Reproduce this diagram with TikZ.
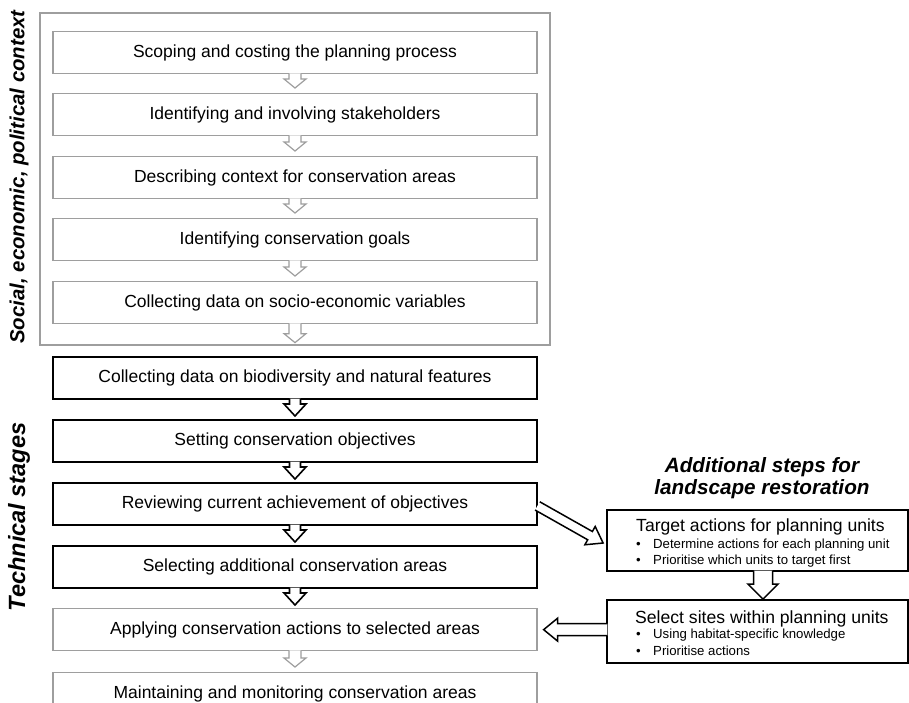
\documentclass[tikz,border=0pt]{standalone}
\usepackage{fontspec}
\setmainfont{Liberation Sans}
\usetikzlibrary{calc}
\newcommand\harrow[6]{% #1 style, #2 start, #3 tip, #4 shaft half, #5 head half, #6 head length
  \path (#2) coordinate (ha-s) (#3) coordinate (ha-t);
  \path ($(ha-t)!#6!(ha-s)$) coordinate (ha-h);
  \draw[#1] ($(ha-s)!#4!90:(ha-t)$) -- ($(ha-h)!#4!90:(ha-t)$) -- ($(ha-h)!#5!90:(ha-t)$)
    -- (ha-t) -- ($(ha-h)!#5!-90:(ha-t)$) -- ($(ha-h)!#4!-90:(ha-t)$) -- ($(ha-s)!#4!-90:(ha-t)$);
}
\tikzset{
  gbox/.style={draw=black!38, line width=1.3pt, fill=white, minimum width=484pt,
    minimum height=42pt, inner sep=0pt, anchor=north, font=\fontsize{17.5}{20}\selectfont},
  bbox/.style={gbox, draw=black, line width=1.8pt},
  rbox/.style={draw=black, line width=1.8pt, fill=white, inner sep=0pt, minimum width=301pt},
  frame/.style={draw=black!38, line width=1.3pt, inner sep=0pt, minimum width=510pt, minimum height=332pt},
  sidelabel/.style={rotate=90, font=\bfseries\itshape\fontsize{20.4}{22}\selectfont, inner sep=0pt},
  rtitle/.style={anchor=base west, inner sep=0pt, font=\fontsize{17.6}{20}\selectfont},
  rbullet/.style={anchor=base west, inner sep=0pt, font=\fontsize{13.2}{15}\selectfont},
  garrow/.style={draw=black!38, line width=1.2pt, fill=white, line join=miter},
  barrow/.style={draw=black, line width=1.6pt, fill=white, line join=miter},
}
\newcommand\bul{\makebox[17pt][l]{\textbullet}}
\begin{document}
\begin{tikzpicture}[x=1pt,y=-1pt]
\clip (0,0) rectangle (909,703);
\fill[white] (0,0) rectangle (909,703);
% context frame
\node[frame] (ctx) at (295,179) {};
% side labels
\node[sidelabel] (soc) at (19,177) {Social, economic, political context};
\node[sidelabel, font=\bfseries\itshape\fontsize{23.5}{25}\selectfont] (tech) at (19,517) {Technical stages};
% grey context boxes
\node[gbox] (g1) at (295,31) {Scoping and costing the planning process};
\node[gbox] (g2) at (295,93) {Identifying and involving stakeholders};
\node[gbox] (g3) at (295,156) {Describing context for conservation areas};
\node[gbox] (g4) at (295,218) {Identifying conservation goals};
\node[gbox] (g5) at (295,281) {Collecting data on socio-economic variables};
% technical stages
\node[bbox] (b1) at (295,356) {Collecting data on biodiversity and natural features};
\node[bbox] (b2) at (295,419) {Setting conservation objectives};
\node[bbox] (b3) at (295,482) {Reviewing current achievement of objectives};
\node[bbox] (b4) at (295,545) {Selecting additional conservation areas};
\node[gbox] (app) at (295,608) {Applying conservation actions to selected areas};
\node[gbox] (mnt) at (295,672) {Maintaining and monitoring conservation areas};
% right side
\node[font=\bfseries\itshape\fontsize{20.7}{22}\selectfont, align=center, inner sep=0pt] (addT) at (762,478) {Additional steps for\\landscape restoration};
\node[rbox, minimum height=61pt] (tgt) at (757.5,540.5) {};
\node[rbox, minimum height=63pt] (sel) at (757.5,631.5) {};
\node[rtitle] (tgtT) at (636,531) {Target actions for planning units};
\node[rbullet] (tgtB1) at (636,548) {\bul Determine actions for each planning unit};
\node[rbullet] (tgtB2) at (636,564) {\bul Prioritise which units to target first};
\node[rtitle] (selT) at (635,623) {Select sites within planning units};
\node[rbullet] (selB1) at (636,638) {\bul Using habitat-specific knowledge};
\node[rbullet] (selB2) at (636,655) {\bul Prioritise actions};
% grey arrows
\harrow{garrow}{$(g1.south)+(0,-1)$}{$(g2.north)+(0,-5)$}{6pt}{11pt}{9pt}
\harrow{garrow}{$(g2.south)+(0,-1)$}{$(g3.north)+(0,-5)$}{6pt}{11pt}{9pt}
\harrow{garrow}{$(g3.south)+(0,-1)$}{$(g4.north)+(0,-5)$}{6pt}{11pt}{9pt}
\harrow{garrow}{$(g4.south)+(0,-1)$}{$(g5.north)+(0,-5)$}{6pt}{11pt}{9pt}
\harrow{garrow}{$(g5.south)+(0,-1)$}{$(ctx.south)+(0,-3)$}{6pt}{11pt}{9pt}
\harrow{garrow}{$(app.south)+(0,-1)$}{$(mnt.north)+(0,-5)$}{6pt}{11pt}{9pt}
% black arrows
\harrow{barrow}{$(b1.south)+(0,-1.2)$}{$(b2.north)+(0,-3)$}{5.5pt}{11pt}{12pt}
\harrow{barrow}{$(b2.south)+(0,-1.2)$}{$(b3.north)+(0,-3)$}{5.5pt}{11pt}{12pt}
\harrow{barrow}{$(b3.south)+(0,-1.2)$}{$(b4.north)+(0,-3)$}{5.5pt}{11pt}{12pt}
\harrow{barrow}{$(b4.south)+(0,-1.2)$}{$(app.north)+(0,-3)$}{5.5pt}{11pt}{12pt}
% right arrows
\harrow{barrow, line width=1.5pt}{$(b3.east)+(-0.5,2)$}{$(tgt.west)+(-3,2.5)$}{4.75pt}{10.5pt}{15pt}
\harrow{barrow, line width=1.5pt}{$(tgt.south)+(5.5,-1.2)$}{$(sel.north)+(5.5,0)$}{9.5pt}{15pt}{15pt}
\harrow{barrow, line width=1.5pt}{$(sel.west |- app.east)+(1.2,0)$}{$(app.east)+(6,0)$}{6pt}{11.5pt}{14pt}
\end{tikzpicture}
\end{document}
